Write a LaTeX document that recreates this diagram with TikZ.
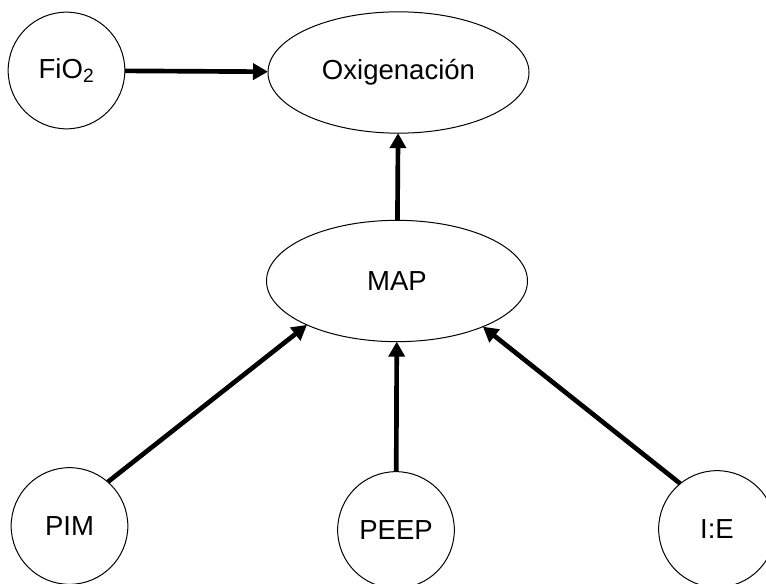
\documentclass[tikz,border=0pt]{standalone}
\usepackage{fontspec}
\setmainfont{Liberation Sans}
\usetikzlibrary{shapes.geometric,arrows.meta}
\begin{document}
\begin{tikzpicture}[x=0.3mm, y=0.3mm,
    every node/.style={font=\fontsize{23.5}{28}\selectfont, inner sep=0pt, outer sep=0pt},
    bubble/.style={draw, circle, line width=0.3mm, minimum size=35mm},
    oval/.style={draw, ellipse, line width=0.3mm, minimum width=78.3mm, minimum height=36.4mm},
    arr/.style={line width=1.4mm, -{Triangle[length=4.5mm, width=4.8mm]}}]
    \clip (0,0) rectangle (766,583);
    \node[bubble] (fio) at (66.5,512.5) {FiO\textsubscript{2}};
    \node[oval] (oxi) at (398.5,510.5) {Oxigenación};
    \node[oval] (map) at (397,302) {MAP};
    \node[bubble] (pim) at (69.5,57) {PIM};
    \node[bubble] (peep) at (396,53) {PEEP};
    \node[bubble] (ie) at (717,54) {I:E};
    \draw[arr] (fio) -- (oxi);
    \draw[arr] (map) -- (oxi);
    \draw[arr] (pim.49) -- (map.206);
    \draw[arr] (peep) -- (map);
    \draw[arr] (ie.129) -- (map.332);
\end{tikzpicture}
\end{document}
